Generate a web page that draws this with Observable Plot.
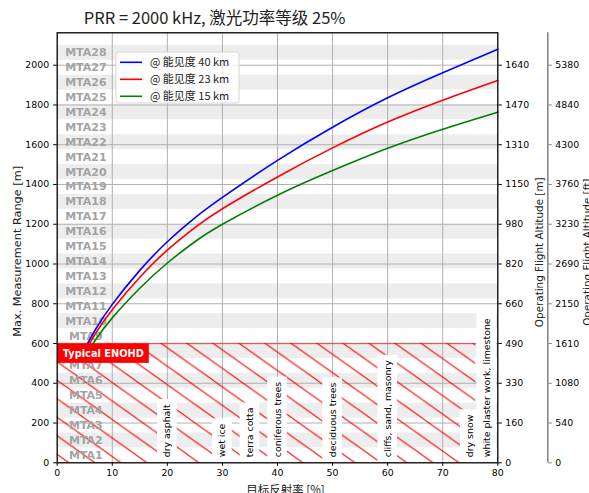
<!DOCTYPE html>
<html><head><meta charset="utf-8">
<script src="https://cdn.jsdelivr.net/npm/d3@7"></script>
<script src="https://cdn.jsdelivr.net/npm/@observablehq/plot@0.6"></script>
<style>body{margin:0;background:#fff} svg{display:block}</style>
</head><body><div id="chart"></div>
<script>
// ---- data ----
const reflectivity = [5, 7, 10, 15, 20, 25, 30, 40, 50, 60, 70, 80];
const range40 = [573, 673, 797, 968, 1112, 1232, 1335, 1521, 1688, 1836, 1962, 2080];
const range23 = [557, 653, 770, 933, 1070, 1183, 1278, 1438, 1584, 1714, 1824, 1923];
const range15 = [531, 620, 729, 878, 1005, 1112, 1200, 1346, 1470, 1582, 1678, 1764];
const seriesNames = ["@ 能见度 40 km", "@ 能见度 23 km", "@ 能见度 15 km"];
const seriesColors = ["#0000ff", "#ff0000", "#008000"];
const mtaZones = d3.range(1, 29);
const mtaWidth = 75;
const mtaLabelReflectivity = 5.2;
const xTicks = [0, 10, 20, 30, 40, 50, 60, 70, 80];
const yTicks = [0, 200, 400, 600, 800, 1000, 1200, 1400, 1600, 1800, 2000];
const altitudeM = ["0","160","330","490","660","820","980","1150","1310","1470","1640"];
const altitudeFt = ["0","540","1080","1610","2150","2690","3230","3760","4300","4840","5380"];
const materials = ["dry asphalt","wet ice","terra cotta","coniferous trees","deciduous trees","cliffs, sand, masonry","dry snow","white plaster work, limestone"];
const materialReflectivity = [20, 30, 35, 40, 50, 60, 75, 78];
const materialLabelRange = 28;
const enohdRange = 600;
const enohdMaxReflectivity = 76;
const enohdLabel = "Typical ENOHD";
const title = "PRR = 2000 kHz, 激光功率等级 25%";
const xLabel = "目标反射率 [%]";
const yLabel = "Max. Measurement Range [m]";
const yLabelRight = "Operating Flight Altitude [m]";
const yLabelRight2 = "Operating Flight Altitude [ft]";

const seriesValues = [range40, range23, range15];
const curveData = seriesNames.flatMap((name, s) => reflectivity.map((r, i) => ({r, v: seriesValues[s][i], name})));
const bands = mtaZones.filter(n => n % 2 === 0).map(n => ({y1: (n - 1) * mtaWidth, y2: n * mtaWidth}));
const cjk = "'Noto Sans CJK SC', 'DejaVu Sans', sans-serif";

const svg = Plot.plot({
  width: 589, height: 493,
  marginLeft: 56.7, marginRight: 91.7, marginTop: 32.3, marginBottom: 30.7,
  style: {fontFamily: "'DejaVu Sans', sans-serif", fontSize: "9.4px", color: "#000", background: "#fff"},
  x: {domain: [0, 80]},
  y: {domain: [0, 2163]},
  color: {domain: seriesNames, range: seriesColors},
  marks: [
    Plot.rect(bands, {x1: 0, x2: 80, y1: "y1", y2: "y2", fill: "#ededed"}),
    Plot.gridX(xTicks.slice(1, -1), {stroke: "#b0b0b0", strokeOpacity: 1, strokeWidth: 1}),
    Plot.gridY(yTicks.slice(1), {stroke: "#b0b0b0", strokeOpacity: 1, strokeWidth: 1}),
    Plot.rect([enohdRange], {x1: 0, x2: enohdMaxReflectivity, y1: 0, y2: d => d, fill: "url(#hatch)"}),
    Plot.ruleY([enohdRange], {x1: 0, x2: enohdMaxReflectivity, stroke: "#ff0000", strokeOpacity: 0.45, strokeWidth: 1.5}),
    Plot.text(mtaZones, {x: mtaLabelReflectivity, y: n => (n - 0.5) * mtaWidth, text: n => "MTA" + n, fill: "#a3a3a3", fontWeight: "bold", fontSize: 11}),
    Plot.line(curveData, {x: "r", y: "v", z: "name", stroke: "name", strokeWidth: 1.6, curve: "natural"}),
    Plot.text(materials, {x: (d, i) => materialReflectivity[i], y: materialLabelRange, text: d => d, rotate: -90, textAnchor: "start", lineAnchor: "middle", fontSize: 9.4, fill: "#000"}),
    Plot.text([enohdLabel], {x: 0, y: enohdRange, text: d => d, textAnchor: "start", lineAnchor: "middle", dx: 5.6, dy: 10, fill: "#fff", fontWeight: "bold", fontSize: 9.8}),
    Plot.frame({stroke: "#000", strokeWidth: 1.3}),
    Plot.axisX({ticks: xTicks, anchor: "bottom", tickSize: 3.5, tickPadding: 3, label: null, fontSize: 9.4, tickFormat: d => String(d)}),
    Plot.axisY({ticks: yTicks, anchor: "left", tickSize: 3.5, tickPadding: 4.5, label: null, fontSize: 9.4, tickFormat: d => String(d)}),
    Plot.axisY({ticks: yTicks, anchor: "right", tickSize: 3.5, tickPadding: 4, label: null, fontSize: 9.4, tickFormat: d => altitudeM[yTicks.indexOf(d)]}),
    Plot.ruleX([80], {dx: 50, stroke: "#808080", strokeWidth: 1.5}),
    Plot.axisY({ticks: yTicks, anchor: "right", dx: 50, stroke: "#808080", tickSize: 3.5, tickPadding: 4, label: null, fontSize: 9.4, fill: "#000", tickFormat: d => altitudeFt[yTicks.indexOf(d)]}),
    Plot.text([title], {frameAnchor: "top-left", dx: 26.6, dy: -14, textAnchor: "start", lineAnchor: "middle", fontSize: 16.5, fontFamily: cjk, fill: "#222"}),
    Plot.text([xLabel], {frameAnchor: "bottom", dx: 8, dy: 27.7, textAnchor: "middle", lineAnchor: "middle", fontSize: 11.5, fontFamily: cjk, fill: "#222"}),
    Plot.text([yLabel], {frameAnchor: "left", dx: -36.7, dy: 3.5, rotate: -90, textAnchor: "middle", lineAnchor: "bottom", fontSize: 11.3, fill: "#222"}),
    Plot.text([yLabelRight], {frameAnchor: "right", dx: 45, dy: 4.5, rotate: -90, textAnchor: "middle", lineAnchor: "bottom", fontSize: 10.4, fill: "#222"}),
    Plot.text([yLabelRight2], {frameAnchor: "right", dx: 93.5, dy: 4.5, rotate: -90, textAnchor: "middle", lineAnchor: "bottom", fontSize: 10.4, fill: "#222"})
  ]
});
document.getElementById("chart").append(svg);

// hatch pattern
const W = 26, H = 18.5;
const defs = d3.select(svg).insert("defs", ":first-child");
const pat = defs.append("pattern").attr("id", "hatch").attr("patternUnits", "userSpaceOnUse")
  .attr("x", 56.7).attr("y", 343).attr("width", W).attr("height", H);
[[-W, -H, 2 * W, 2 * H], [0, -H, 2 * W, H], [-W, 0, W, 2 * H]].forEach(([x1, y1, x2, y2]) =>
  pat.append("line").attr("x1", x1).attr("y1", y1).attr("x2", x2).attr("y2", y2).attr("stroke", "#ff0000").attr("stroke-width", 1));

// text background boxes
function boxes(labels, fill, px, py) {
  d3.select(svg).selectAll("text").filter(function () { return labels.includes(this.textContent); }).each(function () {
    const bb = this.getBBox();
    const r = document.createElementNS("http://www.w3.org/2000/svg", "rect");
    r.setAttribute("x", bb.x - px); r.setAttribute("y", bb.y - py);
    r.setAttribute("width", bb.width + 2 * px); r.setAttribute("height", bb.height + 2 * py);
    r.setAttribute("fill", fill);
    const tr = this.getAttribute("transform"); if (tr) r.setAttribute("transform", tr);
    this.parentNode.insertBefore(r, this);
  });
}
boxes(materials, "#fff", 5, 4.3);
boxes([enohdLabel], "#ff0000", 5, 4.2);

// legend
const lg = d3.select(svg).append("g").attr("aria-label", "legend").attr("text-anchor", "start");
lg.append("rect").attr("x", 116).attr("y", 52).attr("width", 123).attr("height", 51).attr("rx", 2.5)
  .attr("fill", "#fff").attr("fill-opacity", 0.8).attr("stroke", "#d6d6d6");
seriesNames.forEach((name, i) => {
  const y = 62.3 + i * 17;
  lg.append("line").attr("x1", 120).attr("x2", 142).attr("y1", y).attr("y2", y).attr("stroke", seriesColors[i]).attr("stroke-width", 1.6);
  lg.append("text").attr("x", 150).attr("y", y).attr("dy", "0.35em").attr("font-size", 11).attr("font-family", cjk).attr("fill", "#222").attr("text-anchor", "start").text(name);
});
</script></body></html>
